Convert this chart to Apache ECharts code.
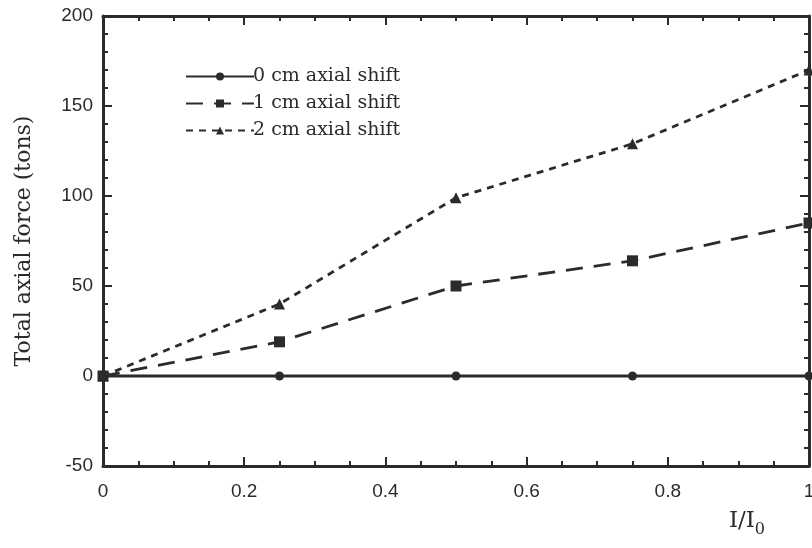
<!DOCTYPE html>
<html><head><meta charset="utf-8">
<script src="https://cdn.jsdelivr.net/npm/echarts@6/dist/echarts.min.js"></script>
<style>html,body{margin:0;padding:0;background:#fff}#c{width:812px;height:548px}</style>
</head><body><div id="c"></div>
<script>
const xValues = [0, 0.25, 0.5, 0.75, 1.0];
const shift0 = [0, 0, 0, 0, 0];
const shift1 = [0, 19, 50, 64, 85];
const shift2 = [0, 40, 99, 129, 170];
const seriesNames = ['0 cm axial shift', '1 cm axial shift', '2 cm axial shift'];
const yTicks = [-50, 0, 50, 100, 150, 200];
const xTicks = [0, 0.2, 0.4, 0.6, 0.8, 1];

const ink = '#2b2b2b';
const pairs = a => xValues.map((x, i) => [x, a[i]]);
const chart = echarts.init(document.getElementById('c'));
const axisLine = {show: true, onZero: false, lineStyle: {color: ink, width: 3}};
const axisTick = {show: true, inside: true, length: 9, lineStyle: {color: ink, width: 2}};
const minor = n => ({show: true, splitNumber: n, length: 5, lineStyle: {color: ink, width: 2}});
chart.setOption({
  animation: false,
  backgroundColor: '#fff',
  grid: {left: 103, right: 3, top: 16, bottom: 82, containLabel: false, outerBoundsMode: 'none'},
  legend: {
    orient: 'vertical', left: 180, top: 62, itemWidth: 68, itemHeight: 10, itemGap: 8,
    data: seriesNames,
    textStyle: {fontFamily: 'DejaVu Serif', fontSize: 19, color: ink, padding: [0, 0, 0, -6]}
  },
  xAxis: [
    {type: 'value', min: 0, max: 1, interval: 0.2, axisLine, axisTick, minorTick: minor(4), splitLine: {show: false},
      axisLabel: {color: ink, fontFamily: 'Liberation Sans', fontSize: 19, margin: 16, formatter: v => xTicks.includes(+v.toFixed(1)) ? String(+v.toFixed(1)) : ''},
      name: '{i|I/I}{s|0}', nameLocation: 'end', nameGap: 0,
      nameTextStyle: {rich: {i: {fontFamily: 'DejaVu Serif', fontSize: 23, color: ink}, s: {fontFamily: 'DejaVu Serif', fontSize: 16, color: ink, padding: [18, 0, 0, 0]}},
        align: 'right', verticalAlign: 'top', padding: [38, 44, 0, 0]}
    },
    {type: 'value', position: 'top', min: 0, max: 1, interval: 0.2, axisLine, axisTick, minorTick: minor(4), splitLine: {show: false}, axisLabel: {show: false}}
  ],
  yAxis: [
    {type: 'value', min: -50, max: 200, interval: 50, axisLine, axisTick, minorTick: minor(5), splitLine: {show: false},
      axisLabel: {color: ink, fontFamily: 'Liberation Sans', fontSize: 19, margin: 10, formatter: v => yTicks.includes(v) ? String(v) : ''},
      name: 'Total axial force (tons)', nameLocation: 'middle', nameGap: 68,
      nameTextStyle: {fontFamily: 'DejaVu Serif', fontSize: 22, color: ink}
    },
    {type: 'value', position: 'right', min: -50, max: 200, interval: 50, axisLine, axisTick, minorTick: minor(5), splitLine: {show: false}, axisLabel: {show: false}}
  ],
  series: [
    {name: seriesNames[0], type: 'line', data: pairs(shift0), symbol: 'circle', symbolSize: 9,
      lineStyle: {color: ink, width: 2.8, type: 'solid'}, itemStyle: {color: ink}, z: 3},
    {name: seriesNames[1], type: 'line', data: pairs(shift1), symbol: 'rect', symbolSize: 11,
      lineStyle: {color: ink, width: 2.8, type: [17, 11]}, itemStyle: {color: ink}, z: 3},
    {name: seriesNames[2], type: 'line', data: pairs(shift2), symbol: 'triangle', symbolSize: 11,
      lineStyle: {color: ink, width: 2.8, type: [7, 6]}, itemStyle: {color: ink}, z: 3}
  ]
});
</script></body></html>
